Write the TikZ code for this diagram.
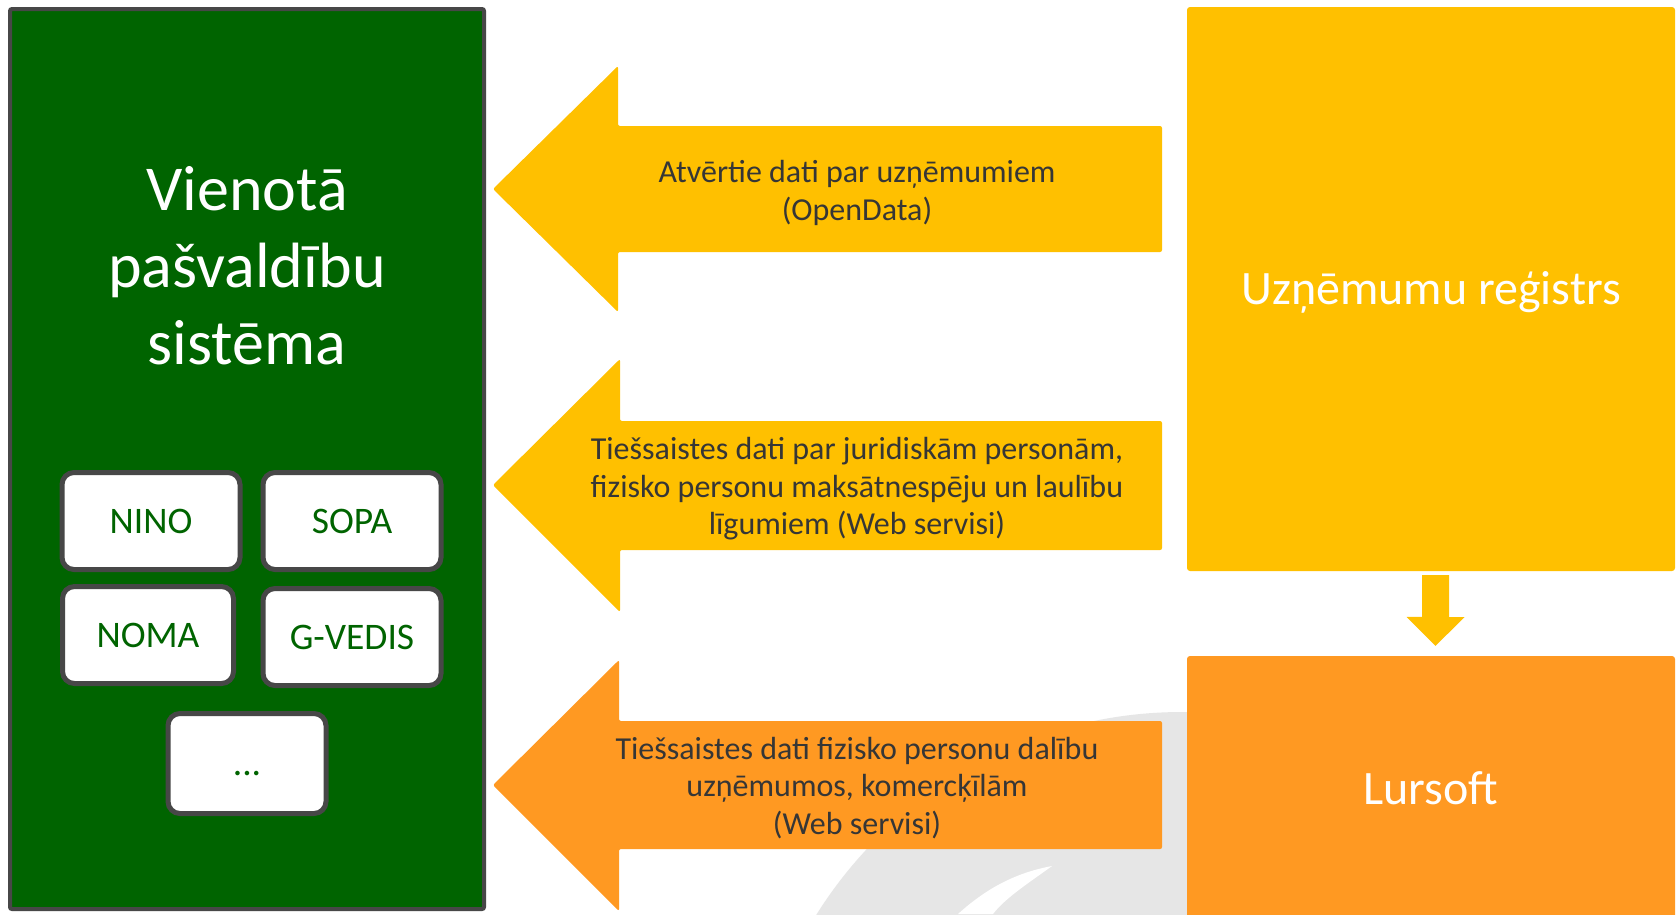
\documentclass[tikz,border=0pt]{standalone}
\usepackage{fontspec}
\setmainfont{Carlito}
\usetikzlibrary{positioning, calc}

\definecolor{vpsgreen}{HTML}{006400}
\definecolor{regyellow}{HTML}{FFC000}
\definecolor{lursorange}{HTML}{FF9922}
\definecolor{framegray}{HTML}{474747}
\definecolor{labelgray}{HTML}{363636}
\definecolor{markgray}{HTML}{E6E6E6}

\begin{document}
\begin{tikzpicture}[x=1pt,y=-1pt,node distance=18pt,
  sys node/.style={rectangle,rounded corners=2pt,fill=vpsgreen,draw=framegray,line width=4pt},
  mod node/.style={rectangle,rounded corners=12pt,fill=white,draw=framegray,line width=5pt,
    minimum width=178pt,minimum height=97pt,text=vpsgreen,text height=24pt,text depth=0pt,
    font=\fontsize{37.5}{45}\selectfont},
  src node/.style={rectangle,rounded corners=3pt,minimum width=488pt,text=white,
    text height=31pt,text depth=0pt,font=\fontsize{48}{58}\selectfont},
  data label/.style={align=center,text=labelgray,font=\fontsize{32}{37.5}\selectfont}]
  \useasboundingbox (0,0) rectangle (1680,914);
  \fill[white] (0,0) rectangle (1680,914);
  % faint logo behind the bottom arrow
  \begin{scope}
    \clip (0,0) rectangle (1680,914);
    \fill[markgray] (1182,1143) circle (431pt);
    \fill[white] (958,914) .. controls (990,885) and (1020,872) .. (1052,866)
      .. controls (1030,882) and (1005,898) .. (993,914) -- cycle;
  \end{scope}

  \node[sys node, minimum width=474pt, minimum height=900pt] (vps) at (247,459) {};
  \node[align=center, text=white, font=\fontsize{64}{77}\selectfont] (vpstitle) at (247,266)
    {Vienotā\\pašvaldību\\sistēma};
  \node[mod node] (nino) at (151,521) {NINO};
  \node[mod node] (sopa) [right=of nino] {SOPA};
  \node[mod node, minimum width=171pt] (noma) [below=12pt of nino, xshift=-3pt] {NOMA};
  \node[mod node] (gvedis) [below=14pt of sopa] {G-VEDIS};
  \coordinate (mid) at (noma.south -| vps.center);
  \node[mod node, minimum width=158pt, minimum height=100pt] (more) [below=25pt of mid] {...};

  \node[src node, fill=regyellow, minimum height=564pt] (reg) at (1431,289) {Uzņēmumu reģistrs};
  \node[src node, fill=lursorange, minimum height=266pt] (lursoft) at (1431,789) {Lursoft};
  \fill[regyellow] ($(reg.south)+(-9,4)$) -- ++(27,0) -- ++(0,42) -- ++(15.5,0)
    -- ($(lursoft.north)+(4.5,-10)$) -- ++(-29,-29) -- ++(15.5,0) -- cycle;

  \fill[regyellow, rounded corners=2pt] (493,189) -- (618,66) -- (618,126) -- (1162,126)
    -- (1162,252) -- (618,252) -- (618,312) -- cycle;
  \fill[regyellow, rounded corners=2pt] (493,485) -- (620,359) -- (620,421) -- (1162,421)
    -- (1162,550) -- (620,550) -- (620,612) -- cycle;
  \fill[lursorange, rounded corners=2pt] (493,785) -- (619,660) -- (619,721) -- (1162,721)
    -- (1162,849) -- (619,849) -- (619,911) -- cycle;
  \node[data label] (opendata) at (857,193) {Atvērtie dati par uzņēmumiem\\(OpenData)};
  \node[data label] (legal) at (857,489)
    {Tiešsaistes dati par juridiskām personām,\\fizisko personu maksātnespēju un laulību\\līgumiem (Web servisi)};
  \node[data label] (shares) at (857,788)
    {Tiešsaistes dati fizisko personu dalību\\uzņēmumos, komercķīlām\\(Web servisi)};
\end{tikzpicture}
\end{document}
